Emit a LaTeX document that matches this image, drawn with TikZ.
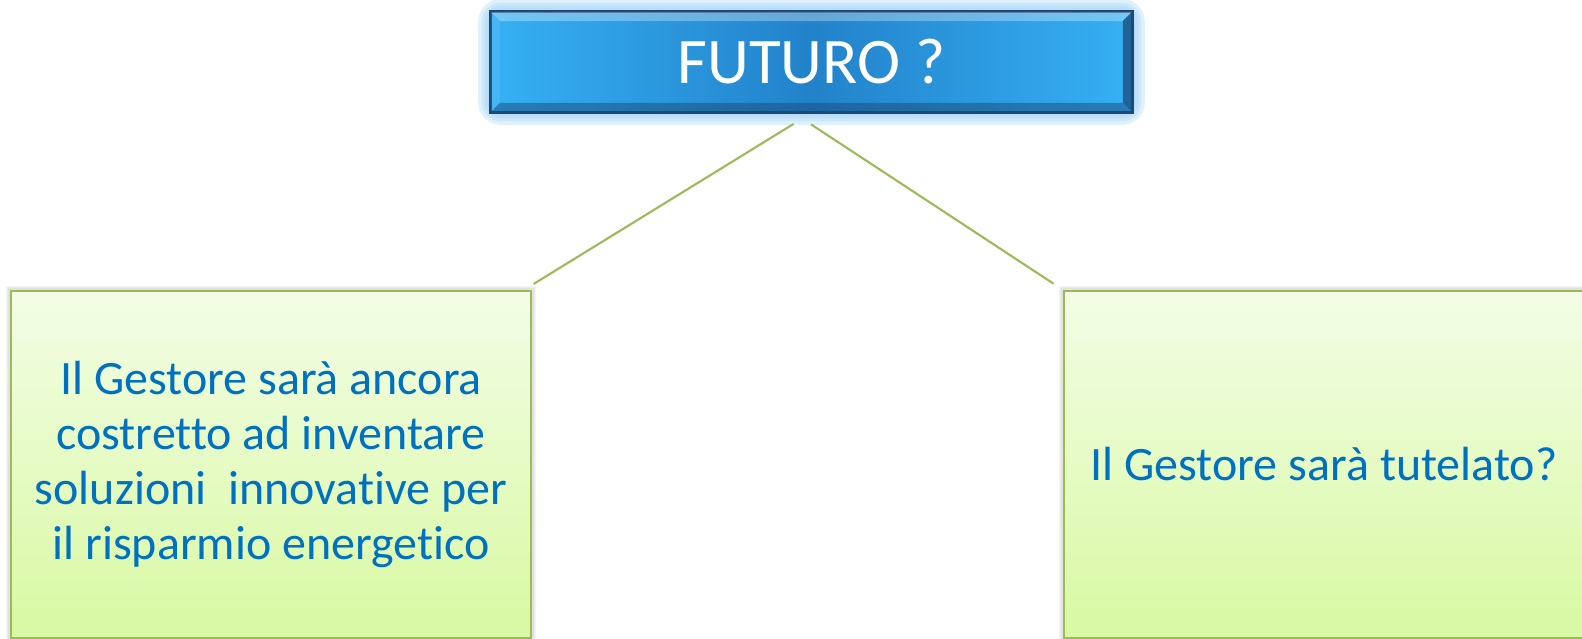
\documentclass[tikz,border=0pt]{standalone}
\usepackage{fontspec}
\setmainfont{Carlito}[Ligatures=NoCommon]
\usetikzlibrary{backgrounds,calc}
\definecolor{titlelight}{HTML}{36B0F4}
\definecolor{titledark}{HTML}{2282CA}
\definecolor{titleedge}{HTML}{1B4A78}
\definecolor{glowblue}{HTML}{9CD0F5}
\definecolor{leafgreen}{HTML}{9BBB59}
\definecolor{leaftop}{HTML}{F3FDE6}
\definecolor{leafbottom}{HTML}{D8F9A2}
\definecolor{textblue}{HTML}{0070C0}

\begin{document}
\begin{tikzpicture}[title node/.style={draw=titleedge, line width=0.5pt, minimum width=6.41cm,
                        minimum height=1cm, left color=titlelight, right color=titlelight,
                        middle color=titledark, text=white, font=\fontsize{18.5}{21}\selectfont},
                    answer node/.style={draw=leafgreen, line width=0.7pt, top color=leaftop,
                        bottom color=leafbottom, text=textblue, minimum width=5.2cm,
                        minimum height=3.47cm, align=center, font=\fontsize{13.65}{15.7}\selectfont},
                    link/.style={draw=leafgreen, line width=0.6pt, shorten <=0.21cm, shorten >=0.11cm}]

      \useasboundingbox (0,0) rectangle (15.82,6.39);

      \node[title node] (futuro) at (8.115,5.77) {FUTURO ?};
      \node[answer node] (inventare) at (2.71,1.745)
        {Il Gestore sarà ancora\\ costretto ad inventare\\ soluzioni~ innovative per\\ il risparmio energetico};
      \node[answer node] (tutelato) at (13.24,1.745) {Il Gestore sarà tutelato?};

      % bevel of the title box
      \fill[white, opacity=.3] (futuro.north west) -- (futuro.north east)
        -- ([shift={(-0.1,-0.1)}]futuro.north east) -- ([shift={(0.1,-0.1)}]futuro.north west) -- cycle;
      \fill[white, opacity=.08] (futuro.north west) -- ([shift={(0.1,-0.1)}]futuro.north west)
        -- ([shift={(0.1,0.1)}]futuro.south west) -- (futuro.south west) -- cycle;
      \fill[titleedge, opacity=.5] (futuro.south west) -- (futuro.south east)
        -- ([shift={(-0.1,0.1)}]futuro.south east) -- ([shift={(0.1,0.1)}]futuro.south west) -- cycle;
      \fill[titleedge, opacity=.75] (futuro.north east) -- ([shift={(-0.1,-0.1)}]futuro.north east)
        -- ([shift={(-0.1,0.1)}]futuro.south east) -- (futuro.south east) -- cycle;
      \draw[titleedge, line width=0.5pt] (futuro.south west) rectangle (futuro.north east);

      % glow and shadows
      \begin{scope}[on background layer]
        \foreach \w in {0.24,0.17,0.11,0.05}
          \draw[glowblue, line width=\w cm, opacity=.3, rounded corners=3pt]
            (futuro.south west) rectangle (futuro.north east);
        \foreach \w in {0.08,0.05,0.03}
          \draw[black, line width=\w cm, opacity=.04]
            (inventare.south west) rectangle (inventare.north east)
            (tutelato.south west) rectangle (tutelato.north east);
      \end{scope}

      \path[link]
        (futuro.south) edge ([xshift=-0.08cm]inventare.north east)
        ([xshift=-0.18cm]futuro.south) edge (tutelato.north west);

\end{tikzpicture}
\end{document}
